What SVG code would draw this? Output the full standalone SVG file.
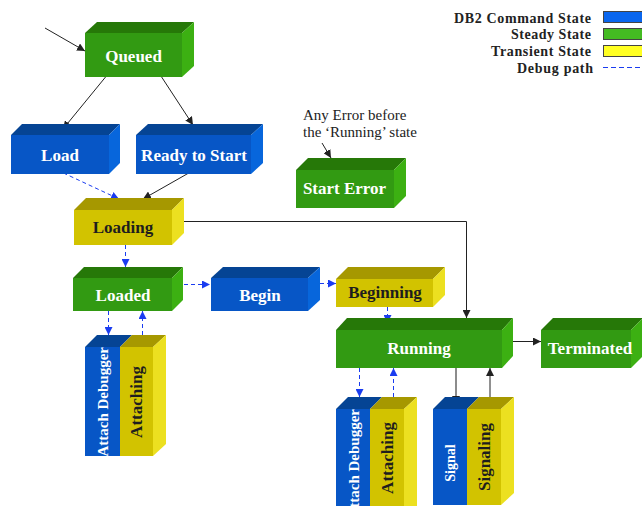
<svg xmlns="http://www.w3.org/2000/svg" width="642" height="506" viewBox="0 0 642 506">
<defs>
<style>
.gf{fill:#329a12}.gt{fill:#267808}.gs{fill:#3cb012}
.bf{fill:#0756c6}.bt{fill:#054494}.bs{fill:#0766dc}
.yf{fill:#d2c300}.yt{fill:#a69800}.ys{fill:#ece020}
.lw{font-family:"Liberation Serif","Times New Roman",serif;font-weight:bold;font-size:17px;fill:#fff;text-anchor:middle}
.ld{font-family:"Liberation Serif","Times New Roman",serif;font-weight:bold;font-size:17px;fill:#1e1e1e;text-anchor:middle}
.lg{font-family:"Liberation Serif","Times New Roman",serif;font-weight:bold;font-size:14px;fill:#222;text-anchor:end}
.an{font-family:"Liberation Serif","Times New Roman",serif;font-size:15px;fill:#222}
.k{stroke:#222;stroke-width:1;fill:none}
.d{stroke:#1a3cf0;stroke-width:1;fill:none;stroke-dasharray:4 3}
</style>
<marker id="ak" viewBox="0 0 10 10" refX="10" refY="5" markerWidth="8" markerHeight="8" markerUnits="userSpaceOnUse" orient="auto"><path d="M0,0 L10,5 L0,10 z" fill="#222"/></marker>
<marker id="ab" viewBox="0 0 10 10" refX="10" refY="5" markerWidth="8" markerHeight="8" markerUnits="userSpaceOnUse" orient="auto"><path d="M0,0 L10,5 L0,10 z" fill="#1a3cf0"/></marker>
</defs>
<rect width="642" height="506" fill="#fff"/>

<g id="legend">
<text class="lg" x="591" y="23" textLength="137">DB2 Command State</text>
<text class="lg" x="591" y="39" textLength="80">Steady State</text>
<text class="lg" x="591" y="56" textLength="100">Transient State</text>
<text class="lg" x="593" y="73" textLength="76">Debug path</text>
<rect x="603.5" y="11.5" width="40" height="11" fill="#0a66ee" stroke="#444"/>
<rect x="603.5" y="28.5" width="40" height="11" fill="#44bb22" stroke="#444"/>
<rect x="603.5" y="45.5" width="40" height="11" fill="#ffff22" stroke="#444"/>
<line x1="603" y1="67.5" x2="642" y2="67.5" stroke="#1a3cf0" stroke-width="1" stroke-dasharray="5 3"/>
</g>

<g id="annotation">
<text class="an" x="303" y="120">Any Error before</text>
<text class="an" x="303" y="137">the ‘Running’ state</text>
</g>

<g id="connectors">
<line x1="45" y1="28" x2="85" y2="51" class="k" marker-end="url(#ak)"/>
<line x1="108" y1="74" x2="63" y2="129" class="k" marker-end="url(#ak)"/>
<line x1="159" y1="73" x2="193" y2="125" class="k" marker-end="url(#ak)"/>
<line x1="57" y1="170" x2="119" y2="199" class="d" marker-end="url(#ab)"/>
<line x1="194" y1="170" x2="143" y2="199" class="k" marker-end="url(#ak)"/>
<polyline points="183,221.5 466.5,221.5 466.5,318" class="k" marker-end="url(#ak)"/>
<line x1="125.5" y1="245" x2="125.5" y2="267" class="d" marker-end="url(#ab)"/>
<line x1="177" y1="284.5" x2="210" y2="284.5" class="d" marker-end="url(#ab)"/>
<line x1="320" y1="283.5" x2="336" y2="283.5" class="d" marker-end="url(#ab)"/>
<line x1="387.5" y1="307" x2="387.5" y2="323" class="d" marker-end="url(#ab)"/>
<line x1="513" y1="341.5" x2="541" y2="341.5" class="k" marker-end="url(#ak)"/>
<line x1="108.5" y1="311" x2="108.5" y2="335" class="d" marker-end="url(#ab)"/>
<line x1="142.5" y1="335" x2="142.5" y2="311" class="d" marker-end="url(#ab)"/>
<line x1="359.5" y1="368" x2="359.5" y2="397" class="d" marker-end="url(#ab)"/>
<line x1="393.5" y1="397" x2="393.5" y2="368" class="d" marker-end="url(#ab)"/>
<line x1="456" y1="364" x2="456" y2="404" stroke="#666" stroke-width="1.5" marker-end="url(#ak)"/>
<line x1="490" y1="404" x2="490" y2="368" class="k" marker-end="url(#ak)"/>
<line x1="322" y1="143" x2="331" y2="158" class="k" marker-end="url(#ak)"/>
</g>

<g id="queued">
<polygon class="gt" points="85,33 182,33 194,22 97,22"/>
<polygon class="gs" points="182,33 194,22 194,66 182,77"/>
<rect class="gf" x="85" y="33" width="97" height="44"/>
<text class="lw" x="133.5" y="62">Queued</text>
</g>

<g id="load">
<polygon class="bt" points="11,135 109,135 120,124 22,124"/>
<polygon class="bs" points="109,135 120,124 120,163 109,174"/>
<rect class="bf" x="11" y="135" width="98" height="39"/>
<text class="lw" x="60" y="161">Load</text>
</g>

<g id="ready">
<polygon class="bt" points="136,135 251,135 263,124 148,124"/>
<polygon class="bs" points="251,135 263,124 263,163 251,174"/>
<rect class="bf" x="136" y="135" width="115" height="39"/>
<text class="lw" x="194" y="161">Ready to Start</text>
</g>

<g id="loading">
<polygon class="yt" points="74,210 172,210 184,198 86,198"/>
<polygon class="ys" points="172,210 184,198 184,233 172,245"/>
<rect class="yf" x="74" y="210" width="98" height="35"/>
<text class="ld" x="123" y="233">Loading</text>
</g>

<g id="start-error">
<polygon class="gt" points="296,170 394,170 406,158 308,158"/>
<polygon class="gs" points="394,170 406,158 406,196 394,208"/>
<rect class="gf" x="296" y="170" width="98" height="38"/>
<text class="lw" x="344.5" y="194">Start Error</text>
</g>

<g id="loaded">
<polygon class="gt" points="73,278 172,278 183,267 84,267"/>
<polygon class="gs" points="172,278 183,267 183,300 172,311"/>
<rect class="gf" x="73" y="278" width="99" height="33"/>
<text class="lw" x="123" y="301">Loaded</text>
</g>

<g id="begin">
<polygon class="bt" points="211,278 308,278 320,267 223,267"/>
<polygon class="bs" points="308,278 320,267 320,300 308,311"/>
<rect class="bf" x="211" y="278" width="97" height="33"/>
<text class="lw" x="260" y="301">Begin</text>
</g>

<g id="beginning">
<polygon class="yt" points="336,279 433,279 445,267 348,267"/>
<polygon class="ys" points="433,279 445,267 445,295 433,307"/>
<rect class="yf" x="336" y="279" width="97" height="28"/>
<text class="ld" x="385" y="298">Beginning</text>
</g>

<g id="running">
<polygon class="gt" points="336,330 502,330 513,318 347,318"/>
<polygon class="gs" points="502,330 513,318 513,356 502,368"/>
<rect class="gf" x="336" y="330" width="166" height="38"/>
<text class="lw" x="419" y="354">Running</text>
</g>

<g id="terminated">
<polygon class="gt" points="541,330 631,330 643,318 553,318"/>
<polygon class="gs" points="631,330 643,318 643,356 631,368"/>
<rect class="gf" x="541" y="330" width="90" height="38"/>
<text class="lw" x="590" y="354">Terminated</text>
</g>

<g id="attach-left">
<polygon class="bt" points="85,347 120,347 132,335 97,335"/>
<rect class="bf" x="85" y="347" width="35" height="109"/>
<text class="lw" style="text-anchor:end;font-size:15px" transform="translate(107.5,347) rotate(-90)">Attach Debugger</text>
</g>
<g id="attaching-left">
<polygon class="yt" points="120,347 153,347 166,335 132,335"/>
<polygon class="ys" points="153,347 166,335 166,444 153,456"/>
<rect class="yf" x="120" y="347" width="33" height="109"/>
<text class="ld" style="font-size:17px" transform="translate(142,402) rotate(-90)">Attaching</text>
</g>

<g id="attach-right">
<polygon class="bt" points="336,409 370,409 382,397 348,397"/>
<rect class="bf" x="336" y="409" width="34" height="97"/>
<text class="lw" style="text-anchor:end;font-size:15px" transform="translate(358.5,409) rotate(-90)">Attach Debugger</text>
</g>
<g id="attaching-right">
<polygon class="yt" points="370,409 404,409 417,397 382,397"/>
<polygon class="ys" points="404,409 417,397 417,506 404,506"/>
<rect class="yf" x="370" y="409" width="34" height="97"/>
<text class="ld" style="font-size:17px" transform="translate(393,458) rotate(-90)">Attaching</text>
</g>

<g id="signal">
<polygon class="bt" points="433,409 467,409 479,397 445,397"/>
<rect class="bf" x="433" y="409" width="34" height="96"/>
<text class="lw" style="font-size:14px" transform="translate(455,463) rotate(-90)">Signal</text>
</g>
<g id="signaling">
<polygon class="yt" points="467,409 501,409 514,397 479,397"/>
<polygon class="ys" points="501,409 514,397 514,493 501,505"/>
<rect class="yf" x="467" y="409" width="34" height="96"/>
<text class="ld" style="font-size:17px" transform="translate(490,457) rotate(-90)">Signaling</text>
</g>
</svg>
